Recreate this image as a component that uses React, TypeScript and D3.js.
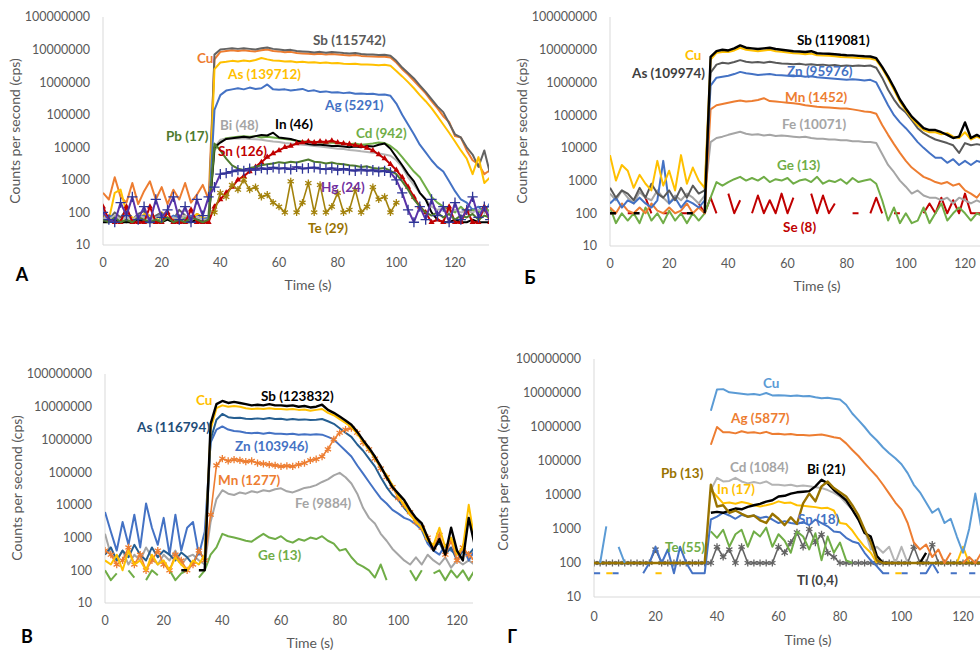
import { useEffect, useRef } from "react";
import * as d3 from "d3";

const N = null;

// sampling grids (s)
const timesA = d3.range(0, 133, 2);
const timesB = d3.range(0, 127, 2);

const yTicks = [10, 100, 1000, 10000, 100000, 1000000, 10000000, 100000000];
const xTicks = [0, 20, 40, 60, 80, 100, 120];

// ---- panel А
const aCu = [400,250,1200,300,200,800,180,450,900,250,600,180,500,250,800,200,350,700,250,
  5e6,8.5e6,9e6,9.5e6,9e6,9.5e6,9e6,8.8e6,9.5e6,1e7,9e6,8.8e6,8.3e6,8.5e6,7.8e6,7.6e6,7.4e6,7.2e6,7.4e6,7e6,7.3e6,7.1e6,6.8e6,6.6e6,6.8e6,6.4e6,6.2e6,6.1e6,6e6,6e6,5.7e6,
  4e6,2.5e6,1.7e6,1.1e6,7e5,4.5e5,2.6e5,1.6e5,9e4,6e4,2.2e4,2e4,8e3,4e3,3e3,1.5e3,2e3];
const aSb = [80,60,100,70,120,60,90,110,60,80,100,70,60,120,80,60,90,70,60,
  7e6,1e7,1.05e7,1.1e7,1.05e7,1.1e7,1.05e7,1e7,1.1e7,1.15e7,1.05e7,1e7,9.5e6,9.8e6,9e6,8.8e6,8.5e6,8.2e6,8.5e6,8e6,8.4e6,8.2e6,7.8e6,7.6e6,7.8e6,7.3e6,7.1e6,7e6,6.8e6,6.9e6,6.5e6,
  4.5e6,2.8e6,1.9e6,1.3e6,8e5,5e5,3e5,1.8e5,1.2e5,5.5e4,2.5e4,2e4,1e4,6e3,2.5e3,8e3,1.5e3];
const aAs = [80,60,400,500,100,70,60,90,80,60,100,70,60,80,70,60,90,70,60,
  2.5e6,4e6,4.2e6,4.5e6,4.3e6,4.6e6,4.4e6,4.8e6,5.5e6,5e6,4.6e6,4.5e6,4.3e6,4.4e6,4.1e6,4.2e6,4e6,4.1e6,3.9e6,4e6,3.8e6,3.9e6,3.7e6,3.6e6,3.7e6,3.5e6,3.5e6,3.4e6,3.3e6,3.4e6,3.2e6,
  2.2e6,1.5e6,1e6,6.5e5,4e5,2.6e5,1.6e5,9e4,5e4,2.8e4,1.5e4,8e3,4.5e3,1.5e3,5e3,800,1.2e3];
const aAg = [60,80,70,60,90,60,70,80,60,70,90,60,80,70,60,80,70,60,70,
  1.4e5,4e5,5.5e5,6e5,6.5e5,6e5,6.8e5,6.2e5,6.5e5,8.5e5,6e5,5.8e5,6e5,5.5e5,5.8e5,6.2e5,5.3e5,5.6e5,5e5,5.2e5,4.8e5,4.9e5,4.6e5,4.8e5,4.4e5,4.5e5,4.3e5,4.4e5,4.1e5,4.2e5,3.8e5,
  2.2e5,1e5,5e4,2.5e4,1.2e4,7e3,4e3,2.5e3,1.8e3,900,450,250,200,120,150,100,200];
const aBi = [70,60,80,60,70,60,80,70,60,70,80,60,70,60,80,60,70,60,60,
  1e4,1.7e4,1.8e4,1.9e4,1.85e4,1.9e4,1.8e4,1.75e4,1.7e4,1.6e4,1.5e4,1.45e4,1.35e4,1.3e4,1.25e4,1.2e4,1.15e4,1.1e4,1.05e4,1e4,9.5e3,9e3,8.8e3,8.2e3,8e3,7.5e3,7.2e3,6.8e3,6.5e3,6e3,5.5e3,
  4e3,2.5e3,1.2e3,700,400,250,150,120,130,100,120,100,110,100,120,100,100];
const aIn = [50,50,60,50,50,50,60,50,50,50,50,60,50,50,50,50,60,50,50,
  1e4,1.4e4,1.8e4,1.9e4,2e4,2.1e4,2e4,2.2e4,2.4e4,2.3e4,2.8e4,2e4,1.9e4,1.8e4,1.6e4,1.4e4,1.25e4,1.2e4,1.2e4,1.15e4,1.1e4,1.1e4,1.05e4,1e4,1.05e4,1e4,1.1e4,1.05e4,1.2e4,1.3e4,9e3,
  5e3,2.8e3,1.5e3,900,400,250,100,60,50,50,60,50,50,60,50,50,50];
const aCd = [60,50,70,60,50,60,70,50,60,50,70,60,50,60,70,50,60,50,60,
  8e3,1.6e4,1.9e4,2e4,2.1e4,2.2e4,2.1e4,2.2e4,2e4,2.1e4,2e4,1.9e4,1.8e4,1.7e4,1.6e4,1.5e4,1.5e4,1.45e4,1.4e4,1.35e4,1.4e4,1.3e4,1.3e4,1.25e4,1.3e4,1.2e4,1.25e4,1.3e4,1.4e4,1.35e4,1.1e4,
  8e3,5e3,3e3,1.8e3,1.2e3,600,300,200,150,120,100,150,100,120,100,150,100];
const aSn = [150,60,50,50,150,50,50,50,150,50,50,100,50,50,50,120,50,50,50,
  150,250,400,600,1e3,1.3e3,1.8e3,2.5e3,3.5e3,5e3,6.5e3,8e3,1e4,1.1e4,1.3e4,1.4e4,1.5e4,1.4e4,1.5e4,1.45e4,1.6e4,1.4e4,1.3e4,1.25e4,1.15e4,1.1e4,9.5e3,8e3,6e3,4.5e3,3e3,
  2e3,1.2e3,600,300,150,100,50,60,50,150,50,50,120,50,50,150,50];
const aPb = [60,50,70,50,60,50,70,60,50,60,50,70,50,60,50,70,60,50,60,
  1.3e4,8e3,4.5e3,2.8e3,2.2e3,2e3,2.3e3,2.5e3,2.8e3,3e3,3.2e3,3.5e3,3.3e3,3.6e3,3.4e3,3.8e3,4.2e3,3.6e3,3.5e3,3.2e3,3.4e3,3.1e3,3e3,2.8e3,2.7e3,2.5e3,2.6e3,2.3e3,2.2e3,2.3e3,1.9e3,
  1.5e3,900,500,250,150,100,80,100,70,90,60,80,70,90,60,80,70];
const aHg = [100,60,50,200,80,300,60,150,50,250,70,120,300,60,150,50,250,80,300,
  600,1.5e3,1.6e3,1.8e3,2e3,1.9e3,2.2e3,2e3,2.3e3,2.1e3,2.4e3,2.2e3,2.3e3,2.1e3,2.5e3,2.2e3,2.3e3,2.4e3,2.2e3,2.1e3,2.3e3,2e3,2.2e3,2e3,1.9e3,2.1e3,1.9e3,2e3,1.8e3,1.9e3,1.7e3,
  1e3,400,120,50,150,60,250,80,150,50,200,60,120,300,70,150,60];
const aTe = [N,N,N,N,N,N,N,N,N,N,N,N,N,N,N,N,N,N,N,
  100,400,300,700,500,1e3,500,600,300,350,200,150,100,900,100,200,800,100,700,100,150,400,100,120,500,100,150,600,250,300,100,
  200,N,N,N,N,N,N,N,N,N,N,N,N,N,N,N,N];

// ---- panel Б
const bSb = [100,100,N,N,100,100,N,N,N,N,N,N,N,100,100,N,100,
  6e6,9e6,1e7,9.5e6,1.1e7,1.35e7,1.15e7,1.1e7,1.05e7,1.1e7,1.15e7,1.05e7,1e7,9.5e6,9e6,8.8e6,8.5e6,9e6,7.8e6,7.6e6,7.5e6,7.3e6,7e6,6.8e6,6.7e6,6.5e6,6.3e6,6.2e6,
  5.5e6,3e6,1.5e6,7e5,3e5,1.6e5,9e4,6e4,4e4,3.5e4,3.5e4,3e4,2.5e4,2e4,2.2e4,6e4,2e4,2.5e4,2e4];
const bCu = [6e3,1e3,3e3,2e3,600,1.5e3,800,500,4e3,700,2e3,500,6e3,800,2.5e3,1e3,600,
  5e6,8e6,8.5e6,8.5e6,9.5e6,1.15e7,1e7,9.5e6,9e6,9.5e6,1e7,9e6,8.6e6,8.2e6,7.8e6,7.6e6,7.3e6,7.6e6,6.8e6,6.6e6,6.5e6,6.3e6,6e6,5.9e6,5.8e6,5.6e6,5.5e6,5.4e6,
  4.8e6,2.7e6,1.3e6,6e5,2.6e5,1.4e5,8e4,5e4,3.5e4,3e4,3e4,2.6e4,2.8e4,2.2e4,2e4,3e4,1.8e4,2.2e4,1.8e4];
const bAs = [600,300,500,400,250,600,300,800,400,300,500,250,600,300,700,400,500,
  2e6,3.5e6,4e6,3.8e6,4.2e6,4.8e6,4.3e6,4.1e6,4.2e6,4e6,4.3e6,4e6,3.8e6,3.7e6,3.6e6,3.7e6,3.5e6,3.6e6,3.4e6,3.5e6,3.3e6,3.4e6,3.2e6,3.3e6,3.2e6,3.3e6,3.2e6,3.3e6,
  2.8e6,1.4e6,6e5,3e5,1.7e5,1.2e5,7e4,4e4,2.8e4,2.2e4,1.8e4,1.6e4,1.4e4,1.2e4,7e3,1.4e4,1.2e4,1.3e4,1.2e4];
const bZn = [200,300,150,250,200,300,200,150,250,4e3,200,300,150,250,200,150,250,
  8e5,1.4e6,1.5e6,1.6e6,1.8e6,2.1e6,1.9e6,1.8e6,1.7e6,1.75e6,1.8e6,1.7e6,1.65e6,1.6e6,1.55e6,1.6e6,1.5e6,1.55e6,1.45e6,1.4e6,1.35e6,1.3e6,1.25e6,1.2e6,1.25e6,1.2e6,1.15e6,1.2e6,
  1e6,4.5e5,2e5,1e5,6e4,4e4,2.5e4,1.5e4,1e4,7e3,5e3,5e3,3.5e3,4.5e3,3e3,4e3,3e3,4e3,3.5e3];
const bMn = [150,100,200,120,100,150,100,200,120,100,150,100,120,200,100,150,100,
  1.5e5,2e5,2.2e5,2.4e5,2.6e5,2.8e5,2.6e5,2.7e5,2.9e5,3.3e5,2.7e5,2.6e5,2.5e5,2.4e5,2.3e5,2.2e5,2e5,1.9e5,1.8e5,1.75e5,1.7e5,1.65e5,1.6e5,1.6e5,1.5e5,1.4e5,1.3e5,1.25e5,
  1.1e5,5e4,2.5e4,1.3e4,7e3,4e3,2.5e3,1.8e3,1.3e3,1.1e3,900,800,900,700,800,500,400,300,500];
const bFe = [400,250,500,300,200,450,300,250,500,300,200,350,250,400,300,200,350,
  1.5e4,2e4,2.2e4,2.5e4,2.8e4,3.1e4,2.7e4,2.5e4,2.6e4,2.4e4,2.5e4,2.3e4,2.4e4,2.3e4,2.2e4,2.1e4,2.2e4,2e4,1.9e4,1.9e4,1.8e4,1.8e4,1.7e4,1.7e4,1.6e4,1.6e4,1.5e4,1.5e4,
  1.4e4,6.5e3,3e3,1.8e3,1e3,650,400,500,350,300,300,250,300,200,300,250,200,250,200];
const bGe = [150,50,100,60,100,50,150,60,100,50,120,60,100,50,100,60,100,
  300,900,700,900,1.1e3,1.3e3,1e3,1.2e3,1e3,1.3e3,900,1.1e3,1e3,1.2e3,800,1e3,1.1e3,900,1.3e3,800,1e3,900,1.1e3,800,1.2e3,900,1e3,1.1e3,
  800,250,60,150,50,100,50,60,150,50,100,200,60,100,150,100,60,100,80];
const bSe = [100,100,N,100,100,N,300,100,N,100,100,N,100,100,N,200,100,
  300,100,N,400,100,250,N,100,350,100,250,100,400,100,300,N,N,400,100,350,100,200,N,N,100,100,N,100,
  300,100,N,100,100,N,N,N,100,200,100,300,100,250,100,400,100,100,100];

// ---- panel В
const vSb = [N,N,N,N,N,N,N,N,N,N,N,N,N,100,100,N,100,100,
  3e6,1.2e7,1.5e7,1.3e7,1.4e7,1.3e7,1.2e7,1.1e7,1.15e7,1.1e7,1.2e7,1.1e7,1.1e7,1.05e7,1.1e7,1e7,1.05e7,9.5e6,1e7,1.15e7,
  8e6,6.5e6,5e6,3.8e6,2.8e6,1.7e6,9.5e5,5.5e5,3e5,1.5e5,7e4,3.5e4,2.2e4,1.4e4,7e3,4e3,2.7e3,1e3,400,900,300,2e3,400,200,4e3,600];
const vCu = [200,150,300,100,400,150,200,100,300,150,200,100,250,150,100,200,150,300,
  2e6,9e6,1.1e7,1e7,1.05e7,1e7,9e6,8.5e6,8.8e6,8.5e6,9e6,8.5e6,8.5e6,8.2e6,8.5e6,8e6,8.2e6,7.5e6,8e6,8.5e6,
  6.5e6,5.5e6,4.2e6,3.2e6,2.4e6,1.5e6,8.5e5,5e5,2.7e5,1.4e5,8e4,4e4,1.8e4,1e4,5e3,3e3,2e3,800,600,2e3,500,1e3,300,500,1e4,800];
const vAs = [300,500,200,400,250,600,300,200,500,250,400,300,200,350,250,150,400,200,
  1e6,4e6,6e6,4.8e6,4.5e6,4.6e6,4.3e6,4.2e6,4.4e6,4.2e6,4.5e6,4.2e6,4.3e6,4e6,4.2e6,4e6,4.1e6,3.9e6,4e6,4.2e6,
  3.6e6,3e6,2.2e6,1.6e6,1.2e6,7e5,4.5e5,2.6e5,1.5e5,7e4,3.5e4,2e4,1.4e4,8e3,5e3,3.5e3,2e3,800,500,700,300,500,200,400,300,500];
const vZn = [6e3,1.5e3,400,3e3,600,5e3,500,1.1e4,2e3,600,4e3,300,5e3,400,2e3,3e3,300,1.5e3,
  8e5,2e6,2.5e6,2e6,1.8e6,1.75e6,1.6e6,1.55e6,1.6e6,1.5e6,1.6e6,1.5e6,1.5e6,1.45e6,1.5e6,1.4e6,1.45e6,1.4e6,1.45e6,1.4e6,
  1.2e6,1e6,6.7e5,4.5e5,3e5,1.6e5,9e4,5e4,2.8e4,1.6e4,1.1e4,7e3,5.4e3,4e3,3.4e3,2.5e3,1.7e3,650,400,300,600,400,300,500,200,400];
const vMn = [400,300,150,200,500,150,300,100,200,400,150,100,300,200,100,150,400,200,
  5e3,1.6e5,2.6e5,2.2e5,2.4e5,2.3e5,2.1e5,2.2e5,1.9e5,1.8e5,1.7e5,1.6e5,1.5e5,1.55e5,1.5e5,1.7e5,1.9e5,2.3e5,2.5e5,3e5,
  5e5,1e6,1.6e6,2e6,2.2e6,1.6e6,8e5,5e5,2.6e5,1.3e5,7e4,3.5e4,1.6e4,1e4,6e3,3e3,2e3,1e3,500,1.2e3,300,800,200,500,300,200];
const vFe = [1.3e3,300,200,400,150,300,200,500,250,150,300,200,400,150,250,300,200,150,
  3e3,1.5e4,2.8e4,2.2e4,2e4,2.4e4,2.2e4,2.6e4,2.4e4,2.8e4,2.6e4,3e4,3.2e4,2.6e4,2.4e4,2.8e4,3.3e4,3.5e4,4e4,5e4,
  6e4,8e4,9.5e4,7e4,4.5e4,2.2e4,8e3,4e3,2.7e3,1.3e3,800,450,300,200,150,250,150,300,200,150,250,120,200,150,200,150];
const vGe = [100,50,80,N,100,60,N,50,100,70,N,100,50,80,100,N,60,100,
  300,500,1.3e3,1.1e3,1e3,900,800,750,1e3,1.3e3,1e3,900,1.1e3,800,700,900,800,1e3,900,1.1e3,
  800,650,400,450,250,160,130,100,60,150,50,N,100,N,100,50,100,N,80,100,50,100,60,100,50,100];

// ---- panel Г
const gCu = [N,100,1.2e3,N,300,100,N,N,N,N,N,N,N,N,N,N,N,N,N,
  3e6,1.26e7,1.3e7,1.05e7,1e7,9.5e6,9e6,9.3e6,8.8e6,1e7,8.5e6,8.6e6,8.4e6,8.2e6,8.5e6,8e6,8.2e6,7.5e6,7e6,7.2e6,
  6.8e6,6.4e6,4.5e6,2.5e6,1.6e6,1e6,6e5,4e5,2.5e5,1.7e5,1.2e5,8e4,4.4e4,2e4,1.2e4,6e3,3e3,4e3,1.5e3,2e3,600,200,1e3,1.1e4,1e3];
const gAg = [N,N,N,N,N,N,N,N,N,N,N,N,N,N,N,N,N,N,N,
  3e5,1e6,7e5,7e5,6.5e5,7.5e5,6.8e5,7e5,6.5e5,7.2e5,6.2e5,6.3e5,6e5,6.2e5,5.8e5,5.8e5,5.6e5,5.8e5,6e5,5.5e5,
  5e5,4.7e5,3.3e5,2.1e5,1.4e5,8.7e4,5.5e4,3.5e4,2e4,1.1e4,6e3,3.7e3,1.5e3,400,250,350,150,250,100,200,N,100,150,100,200];
const gCd = [N,N,N,N,N,N,N,N,N,N,N,N,N,N,N,N,N,N,N,
  1.4e4,3.2e4,2.5e4,2.6e4,3.2e4,2.5e4,2.2e4,2.4e4,2.2e4,2.5e4,2e4,2e4,1.9e4,2e4,1.8e4,1.9e4,1.8e4,1.7e4,1.6e4,1.4e4,
  1.15e4,9e3,5.7e3,3.7e3,1.9e3,950,250,300,200,300,100,300,100,N,N,N,N,N,N,N,N,N,N,N,N];
const gBi = [N,N,N,N,N,N,N,N,N,N,N,N,N,N,N,N,N,N,N,
  3e3,3.2e3,3e3,3.5e3,4e3,3.8e3,4.5e3,5e3,5.5e3,6.4e3,7e3,9e3,9.5e3,1.1e4,1.2e4,1.25e4,1.3e4,1.8e4,2.8e4,2.2e4,
  1.4e4,1e4,7e3,3.7e3,1.9e3,760,600,160,100,100,N,N,N,N,100,200,N,N,N,N,N,N,N,N,N];
const gPb = [100,100,100,100,100,100,100,100,100,100,100,100,100,100,100,100,100,100,100,
  2e4,4.6e3,5e3,3e3,3.5e3,2.8e3,2.3e3,2.5e3,1.8e3,1.5e3,2.8e3,2e3,1.3e3,2.2e3,1.4e3,5.7e3,1.1e4,6.5e3,1.8e4,2.5e4,
  1.6e4,1.2e4,9e3,5e3,2.5e3,950,400,120,100,100,100,100,100,100,100,100,100,100,100,100,100,100,100,100,100];
const gIn = [N,N,50,50,N,N,N,N,N,N,50,50,N,N,N,N,N,N,N,
  1.4e4,9e3,5.7e3,6e3,5.5e3,6.2e3,5.7e3,5e3,4.6e3,5e3,5.5e3,6.5e3,5.8e3,6e3,5e3,4.8e3,4.6e3,4.4e3,4.1e3,4.2e3,
  3.5e3,1.5e3,1.4e3,900,500,300,200,100,N,N,50,50,N,N,N,N,N,N,N,N,100,300,100,N,N];
const gSn = [50,50,N,50,50,N,50,N,50,100,300,100,250,50,300,100,50,50,50,
  1.9e3,2.3e3,3e3,2.5e3,2e3,2.6e3,2.3e3,2.5e3,2.1e3,2.3e3,1.9e3,1.5e3,1.7e3,1.5e3,1.4e3,1.6e3,1.3e3,1.9e3,1.5e3,1.2e3,
  850,800,550,430,380,200,120,80,50,50,N,50,50,N,50,50,100,50,N,50,50,N,50,50,N];
const gTe = [N,N,N,N,N,N,N,N,N,N,N,N,N,N,N,N,N,N,N,
  850,550,950,300,700,950,300,850,600,1.1e3,300,700,450,200,850,600,250,750,120,600,
  200,400,120,100,N,N,N,N,N,N,N,N,N,N,N,N,N,N,N,N,N,N,N,N,N];
const gTl = [100,100,100,100,100,100,100,100,100,100,250,100,100,100,100,100,100,100,100,
  100,300,150,250,100,300,100,100,100,100,100,300,200,400,800,300,1e3,400,700,200,
  150,100,100,100,100,100,100,100,100,100,100,100,100,300,100,100,350,100,100,100,100,100,100,100,100];

type Val = number | null;
type Marker = "triangle" | "plus" | "asterisk";
interface Series {
  values: Val[];
  color: string;
  marker?: Marker;
  markerColor?: string;
  width?: number;
}
interface Label {
  text: string;
  color: string;
  x: number;
  y: number;
}
interface Panel {
  letter: string;
  letterPos: [number, number];
  x0: number;
  x120: number;
  xEnd: number;
  yTop: number;
  yBottom: number;
  times: number[];
  series: Series[];
  labels: Label[];
  xTickY: number;
  xTitle: [number, number];
  yTitle: [number, number];
}

const ORANGE = "#ED7D31";
const GRAY = "#A5A5A5";
const YELLOW = "#FFC000";
const BLUE = "#4472C4";
const LBLUE = "#5B9BD5";
const GREEN = "#70AD47";
const DBLUE = "#255E91";
const DGRAY = "#636363";
const DRED = "#C00000";
const DGREEN = "#4E7A2E";
const OLIVE = "#997300";

const panels: Panel[] = [
  {
    letter: "А", letterPos: [22, 281],
    x0: 103, x120: 455, xEnd: 489, yTop: 17, yBottom: 245, times: timesA,
    series: [
      { values: aCu, color: ORANGE },
      { values: aSb, color: DGRAY },
      { values: aAs, color: YELLOW },
      { values: aAg, color: BLUE },
      { values: aCd, color: GREEN },
      { values: aBi, color: "#B4B4B4" },
      { values: aIn, color: "#000000" },
      { values: aSn, color: DRED, marker: "triangle" },
      { values: aPb, color: DGREEN },
      { values: aHg, color: "#5A32A8", marker: "plus", markerColor: "#2E3596" },
      { values: aTe, color: "#A3820C", marker: "asterisk", width: 1.6 },
    ],
    labels: [
      { text: "Sb (115742)", color: "#595959", x: 313, y: 40 },
      { text: "Cu", color: ORANGE, x: 197, y: 58 },
      { text: "As (139712)", color: YELLOW, x: 228, y: 74 },
      { text: "Ag (5291)", color: BLUE, x: 325, y: 105 },
      { text: "Bi (48)", color: GRAY, x: 220, y: 125 },
      { text: "In (46)", color: "#000000", x: 275, y: 124 },
      { text: "Pb (17)", color: DGREEN, x: 166, y: 136 },
      { text: "Cd (942)", color: GREEN, x: 356, y: 133 },
      { text: "Sn (126)", color: DRED, x: 218, y: 151 },
      { text: "Hg (24)", color: "#7030A0", x: 321, y: 187 },
      { text: "Te (29)", color: OLIVE, x: 308, y: 228 },
    ],
    xTickY: 263, xTitle: [308, 285], yTitle: [15, 131],
  },
  {
    letter: "Б", letterPos: [530, 284],
    x0: 610, x120: 965, xEnd: 980, yTop: 17, yBottom: 246, times: timesB,
    series: [
      { values: bSe, color: DRED },
      { values: bGe, color: GREEN },
      { values: bFe, color: GRAY },
      { values: bMn, color: ORANGE },
      { values: bZn, color: BLUE },
      { values: bAs, color: "#595959" },
      { values: bCu, color: YELLOW },
      { values: bSb, color: "#000000", width: 2.4 },
    ],
    labels: [
      { text: "Sb (119081)", color: "#000000", x: 797, y: 40 },
      { text: "Cu", color: YELLOW, x: 685, y: 55 },
      { text: "As (109974)", color: "#404040", x: 632, y: 73 },
      { text: "Zn (95976)", color: BLUE, x: 787, y: 71 },
      { text: "Mn (1452)", color: ORANGE, x: 785, y: 97 },
      { text: "Fe (10071)", color: GRAY, x: 782, y: 124 },
      { text: "Ge (13)", color: GREEN, x: 777, y: 165 },
      { text: "Se (8)", color: DRED, x: 783, y: 227 },
    ],
    xTickY: 264, xTitle: [817, 286], yTitle: [522, 131],
  },
  {
    letter: "В", letterPos: [27, 643],
    x0: 105, x120: 457, xEnd: 473, yTop: 374, yBottom: 603, times: timesB,
    series: [
      { values: vGe, color: GREEN },
      { values: vFe, color: GRAY },
      { values: vZn, color: BLUE },
      { values: vAs, color: DBLUE },
      { values: vMn, color: ORANGE, marker: "asterisk", width: 1.6 },
      { values: vCu, color: YELLOW },
      { values: vSb, color: "#000000", width: 2.4 },
    ],
    labels: [
      { text: "Cu", color: YELLOW, x: 196, y: 400 },
      { text: "Sb (123832)", color: "#000000", x: 261, y: 396 },
      { text: "As (116794)", color: "#1F4E79", x: 137, y: 427 },
      { text: "Zn (103946)", color: BLUE, x: 235, y: 446 },
      { text: "Mn (1277)", color: ORANGE, x: 218, y: 480 },
      { text: "Fe (9884)", color: GRAY, x: 295, y: 503 },
      { text: "Ge (13)", color: GREEN, x: 258, y: 555 },
    ],
    xTickY: 621, xTitle: [310, 643], yTitle: [17, 488],
  },
  {
    letter: "Г", letterPos: [512, 643],
    x0: 594, x120: 963, xEnd: 980, yTop: 359, yBottom: 597, times: timesB,
    series: [
      { values: gTl, color: DGRAY, marker: "asterisk", width: 1.6 },
      { values: gTe, color: GREEN },
      { values: gSn, color: BLUE },
      { values: gIn, color: YELLOW },
      { values: gCd, color: "#B4B4B4" },
      { values: gBi, color: "#000000", width: 2.4 },
      { values: gPb, color: OLIVE, width: 2.4 },
      { values: gAg, color: ORANGE },
      { values: gCu, color: LBLUE },
    ],
    labels: [
      { text: "Cu", color: LBLUE, x: 763, y: 383 },
      { text: "Ag (5877)", color: ORANGE, x: 731, y: 418 },
      { text: "Cd (1084)", color: GRAY, x: 730, y: 467 },
      { text: "Pb (13)", color: OLIVE, x: 661, y: 473 },
      { text: "Bi (21)", color: "#000000", x: 807, y: 469 },
      { text: "In (17)", color: YELLOW, x: 717, y: 489 },
      { text: "Sn (18)", color: BLUE, x: 798, y: 519 },
      { text: "Te (55)", color: GREEN, x: 665, y: 547 },
      { text: "Tl (0,4)", color: "#404040", x: 797, y: 580 },
    ],
    xTickY: 617, xTitle: [808, 640], yTitle: [503, 478],
  },
];

const FONT = "Lato, 'Open Sans', sans-serif";
const TEXT_GRAY = "#595959";

export default function App() {
  const svgRef = useRef<SVGSVGElement | null>(null);

  useEffect(() => {
    const svg = d3.select(svgRef.current);
    svg.selectAll("*").remove();
    const defs = svg.append("defs");

    panels.forEach((p, pi) => {
      const x = d3.scaleLinear().domain([0, 120]).range([p.x0, p.x120]);
      const y = d3.scaleLog().domain([10, 1e8]).range([p.yBottom, p.yTop]);
      const g = svg.append("g");

      const clipId = `clip-${pi}`;
      defs
        .append("clipPath")
        .attr("id", clipId)
        .append("rect")
        .attr("x", p.x0)
        .attr("y", p.yTop - 10)
        .attr("width", p.xEnd - p.x0)
        .attr("height", p.yBottom - p.yTop + 10);

      // axis lines
      g.append("line")
        .attr("x1", p.x0).attr("x2", p.x0)
        .attr("y1", p.yTop).attr("y2", p.yBottom)
        .attr("stroke", "#D9D9D9");
      g.append("line")
        .attr("x1", p.x0).attr("x2", p.xEnd)
        .attr("y1", p.yBottom).attr("y2", p.yBottom)
        .attr("stroke", "#D9D9D9");

      g.selectAll("text.ytick")
        .data(yTicks)
        .enter()
        .append("text")
        .attr("class", "ytick")
        .attr("x", p.x0 - 13)
        .attr("y", (d) => y(d))
        .attr("dy", "0.35em")
        .attr("text-anchor", "end")
        .attr("font-family", FONT)
        .attr("font-size", 12.5)
        .attr("fill", TEXT_GRAY)
        .text((d) => d3.format("d")(d));

      g.selectAll("text.xtick")
        .data(xTicks)
        .enter()
        .append("text")
        .attr("class", "xtick")
        .attr("x", (d) => x(d))
        .attr("y", p.xTickY)
        .attr("dy", "0.35em")
        .attr("text-anchor", "middle")
        .attr("font-family", FONT)
        .attr("font-size", 12.5)
        .attr("fill", TEXT_GRAY)
        .text((d) => String(d));

      g.append("text")
        .attr("x", p.xTitle[0])
        .attr("y", p.xTitle[1])
        .attr("dy", "0.35em")
        .attr("text-anchor", "middle")
        .attr("font-family", FONT)
        .attr("font-size", 14)
        .attr("fill", TEXT_GRAY)
        .text("Time (s)");

      g.append("text")
        .attr("transform", `translate(${p.yTitle[0]},${p.yTitle[1]}) rotate(-90)`)
        .attr("dy", "0.35em")
        .attr("text-anchor", "middle")
        .attr("font-family", FONT)
        .attr("font-size", 14)
        .attr("fill", TEXT_GRAY)
        .text("Counts per second (cps)");

      g.append("text")
        .attr("x", p.letterPos[0])
        .attr("y", p.letterPos[1])
        .attr("text-anchor", "middle")
        .attr("font-family", FONT)
        .attr("font-weight", "bold")
        .attr("font-size", 18)
        .attr("fill", "#000")
        .text(p.letter);

      const plot = g.append("g").attr("clip-path", `url(#${clipId})`);

      p.series.forEach((s) => {
        const pts = p.times.map((t, i) => ({ t, v: s.values[i] ?? null }));
        const line = d3
          .line<{ t: number; v: Val }>()
          .defined((d) => d.v != null && d.v > 0)
          .x((d) => x(d.t))
          .y((d) => y(d.v as number));
        plot
          .append("path")
          .attr("d", line(pts))
          .attr("fill", "none")
          .attr("stroke", s.color)
          .attr("stroke-width", s.width ?? 2)
          .attr("stroke-linejoin", "round");

        if (s.marker) {
          const type =
            s.marker === "triangle"
              ? d3.symbolTriangle
              : s.marker === "plus"
              ? d3.symbolPlus
              : d3.symbolAsterisk;
          const size = s.marker === "triangle" ? 16 : 36;
          const sym = d3.symbol().type(type).size(size);
          const mc = s.markerColor ?? s.color;
          plot
            .append("g")
            .selectAll("path")
            .data(pts.filter((d) => d.v != null))
            .enter()
            .append("path")
            .attr("transform", (d) => `translate(${x(d.t)},${y(d.v as number)})`)
            .attr("d", sym() as string)
            .attr("fill", s.marker === "triangle" ? mc : "none")
            .attr("stroke", mc)
            .attr("stroke-width", s.marker === "triangle" ? 0 : 1.3);
        }
      });

      g.selectAll("text.lbl")
        .data(p.labels)
        .enter()
        .append("text")
        .attr("class", "lbl")
        .attr("x", (d) => d.x)
        .attr("y", (d) => d.y)
        .attr("dy", "0.35em")
        .attr("font-family", FONT)
        .attr("font-weight", "bold")
        .attr("font-size", 13.5)
        .attr("fill", (d) => d.color)
        .text((d) => d.text);
    });

    return () => {
      svg.selectAll("*").remove();
    };
  }, []);

  return (
    <svg
      ref={svgRef}
      width={980}
      height={650}
      style={{ position: "absolute", left: 0, top: 0, background: "#fff" }}
    />
  );
}
